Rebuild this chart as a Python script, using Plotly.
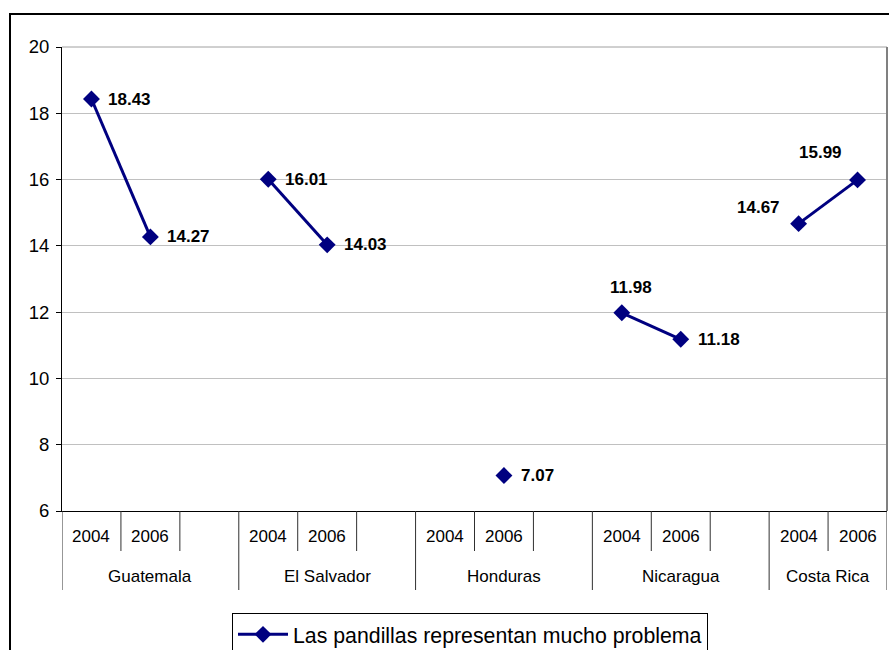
import plotly.graph_objects as go

# Survey results: "gangs represent a big problem" (%), by country and year
countries = ["Guatemala", "El Salvador", "Honduras", "Nicaragua", "Costa Rica"]
years = ["2004", "2006"]
values_2004 = [18.43, 16.01, None, 11.98, 14.67]
values_2006 = [14.27, 14.03, 7.07, 11.18, 15.99]
y_ticks = [6, 8, 10, 12, 14, 16, 18, 20]
series_name = "Las pandillas representan mucho problema"

NAVY = "#000080"
FONT = "Liberation Sans, Arial, sans-serif"

# Each country occupies 3 category slots (2004, 2006, blank) except the last
slots_per_country = 3
n_slots = slots_per_country * len(countries) - 1

xs, ys, pts = [], [], []
for i, c in enumerate(countries):
    base = i * slots_per_country
    for j, (yr, v) in enumerate(zip(years, (values_2004[i], values_2006[i]))):
        xs.append(base + j + 0.5)
        ys.append(v)
        if v is not None:
            pts.append((c, yr, base + j + 0.5, v))
    xs.append(None)
    ys.append(None)

fig = go.Figure()
fig.add_trace(go.Scatter(
    x=xs, y=ys, mode="lines+markers", name=series_name,
    connectgaps=False,
    line=dict(color=NAVY, width=3),
    marker=dict(symbol="diamond", size=13, color=NAVY),
    hoverinfo="skip",
))

# data labels (placement per point)
label_style = {
    ("Nicaragua", "2004"): dict(xanchor="center", xshift=9, yshift=25),
    ("Costa Rica", "2004"): dict(xanchor="center", xshift=-40, yshift=16),
    ("Costa Rica", "2006"): dict(xanchor="center", xshift=-37, yshift=27),
}
for c, yr, x, v in pts:
    st = label_style.get((c, yr), dict(xanchor="left", xshift=15, yshift=0))
    fig.add_annotation(
        x=x, y=v, xref="x", yref="y", text=f"<b>{v:.2f}</b>",
        showarrow=False, yanchor="middle",
        font=dict(family=FONT, size=17, color="black"), **st,
    )

plot_h = 464.0
short_len = 40 / plot_h
long_len = 79 / plot_h

shapes = []
# category dividers below the x axis
for k in range(n_slots + 1):
    is_group = (k % slots_per_country == 0) or k == n_slots
    shapes.append(dict(
        type="line", xref="x", yref="paper", x0=k, x1=k, y0=0,
        y1=-(long_len if is_group else short_len),
        line=dict(color="#303030", width=1),
    ))

# year labels and country labels
for i, c in enumerate(countries):
    base = i * slots_per_country
    for j, yr in enumerate(years):
        fig.add_annotation(
            x=base + j + 0.5, y=-25 / plot_h, xref="x", yref="paper",
            text=yr, showarrow=False, yanchor="middle",
            font=dict(family=FONT, size=17, color="black"),
        )
    width = slots_per_country if i < len(countries) - 1 else len(years)
    fig.add_annotation(
        x=base + width / 2, y=-65 / plot_h, xref="x", yref="paper",
        text=c, showarrow=False, yanchor="middle",
        font=dict(family=FONT, size=17, color="black"),
    )

# plot-area border (top and right) in grey
shapes.append(dict(type="line", xref="paper", yref="paper", x0=0, x1=1, y0=1, y1=1,
                   line=dict(color="#a0a0a0", width=1)))
shapes.append(dict(type="line", xref="paper", yref="paper", x0=1, x1=1, y0=0, y1=1,
                   line=dict(color="#808080", width=2)))

# outer chart frame
shapes.append(dict(type="rect", xref="paper", yref="paper",
                   x0=(10 - 62) / 825, x1=1.02, y0=-0.35, y1=(511 - 14) / plot_h,
                   line=dict(color="black", width=2), fillcolor="rgba(0,0,0,0)"))

fig.update_layout(
    width=889, height=650,
    margin=dict(l=62, r=2, t=47, b=139, autoexpand=False),
    paper_bgcolor="white", plot_bgcolor="white",
    font=dict(family=FONT, size=17, color="black"),
    shapes=shapes,
    showlegend=True,
    legend=dict(
        x=(232 - 62) / 825, y=(650 - 613) / 650, xref="paper", yref="container",
        xanchor="left", yanchor="top",
        orientation="h", bordercolor="black", borderwidth=1,
        font=dict(family=FONT, size=21.3, color="black"),
        itemwidth=50, bgcolor="white",
    ),
    xaxis=dict(
        range=[0, n_slots], showticklabels=False, showgrid=False, zeroline=False,
        showline=True, linecolor="black", linewidth=1, ticks="", fixedrange=True,
    ),
    yaxis=dict(
        range=[6, 20], tickvals=y_ticks, showgrid=True, gridcolor="#c0c0c0", gridwidth=1,
        zeroline=False, showline=True, linecolor="black", linewidth=1,
        ticks="outside", ticklen=5, tickcolor="black", ticklabelstandoff=3,
        tickfont=dict(family=FONT, size=18.5, color="black"),
    ),
)

fig.write_html("out.html")
